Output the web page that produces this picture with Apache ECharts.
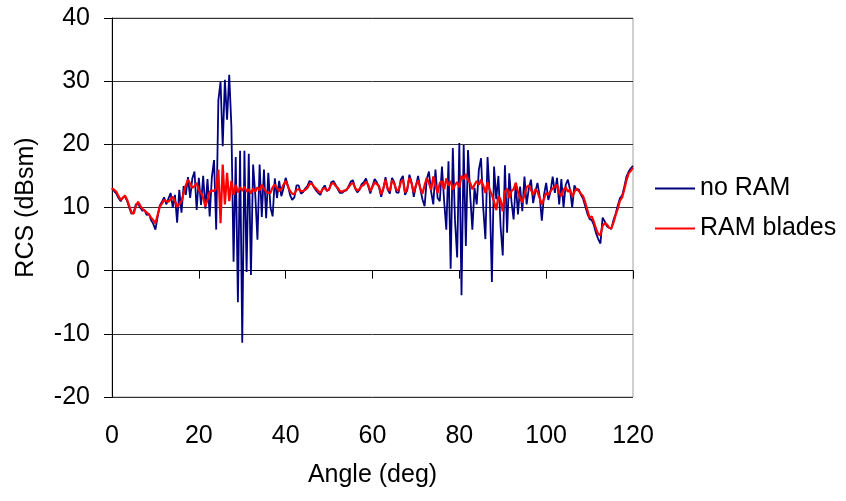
<!DOCTYPE html>
<html>
<head>
<meta charset="utf-8">
<script src="https://cdn.jsdelivr.net/npm/echarts@6/dist/echarts.min.js"></script>
<style>html,body{margin:0;padding:0;background:#fff}#chart{width:846px;height:501px}</style>
</head>
<body>
<div id="chart"></div>
<script>
// Angle sampling (deg)
const angleStart = 0;
const angleStep = 0.5;

// RCS (dBsm), no RAM
const noRAM = [
  13.1,12.6,12.2,11.5,11.0,11.6,11.7,11.0,9.9,9.0,
  9.3,10.5,10.6,10.0,9.5,9.6,8.8,9.0,8.0,7.4,
  6.5,8.5,10.3,10.9,11.6,10.5,11.4,12.3,10.0,12.0,
  7.6,12.8,9.2,13.4,12.0,14.8,11.5,14.6,15.7,9.6,
  14.7,10.4,15.0,9.8,14.5,8.6,14.8,17.5,6.5,27.0,
  29.9,19.7,30.2,23.9,31.0,22.8,1.4,18.0,-5.0,19.0,
  -11.4,19.0,-0.2,18.5,-0.7,16.8,12.0,4.9,16.8,8.5,
  16.0,8.3,15.5,10.0,8.6,14.6,11.5,14.2,11.8,13.0,
  14.7,13.5,12.0,11.2,11.6,13.5,13.5,12.2,12.4,13.0,
  13.4,14.2,14.0,13.2,12.7,12.3,12.0,13.0,13.5,12.6,
  12.8,14.0,14.2,13.6,12.9,12.3,12.3,12.6,12.7,13.4,
  14.1,14.3,13.0,12.4,12.8,13.7,14.0,14.6,13.4,12.2,
  13.4,14.5,14.0,13.2,11.7,13.0,14.8,12.8,12.2,14.7,
  14.0,12.4,12.3,14.4,15.0,12.0,12.7,15.2,14.0,11.7,
  13.4,15.0,13.0,11.3,10.2,14.5,15.7,12.5,10.5,16.0,
  11.5,11.0,16.5,11.0,6.5,17.3,0.3,19.4,8.0,2.1,
  20.2,-3.9,19.9,3.9,19.1,12.0,6.5,13.1,10.5,16.0,
  17.8,10.0,5.0,18.0,12.0,-1.8,16.5,11.3,15.0,7.0,
  2.4,16.7,6.0,15.4,11.0,8.1,13.9,8.9,13.3,9.4,
  14.9,10.5,13.0,14.4,10.7,12.5,13.9,11.8,7.9,12.0,
  13.9,11.2,12.5,14.9,12.3,14.7,10.5,14.5,10.0,13.6,
  14.4,12.8,10.0,13.5,12.7,12.9,12.0,11.4,10.2,9.0,
  8.2,8.0,7.2,5.9,5.0,4.3,8.4,7.8,7.0,6.8,
  6.6,8.0,9.0,10.3,11.5,11.9,13.3,14.9,15.7,16.2,
  16.6
];

// RCS (dBsm), RAM blades
const ramBlades = [
  13.0,12.8,12.5,11.8,11.2,11.5,11.9,11.2,10.2,9.2,
  9.0,10.2,10.9,10.3,9.8,9.5,9.2,8.9,8.4,8.0,
  7.5,8.8,10.1,10.6,11.2,11.0,10.9,11.3,11.7,11.0,
  10.1,10.5,11.0,12.3,13.5,14.4,13.8,13.1,13.4,13.9,
  12.8,12.3,11.5,10.2,11.2,12.5,12.7,12.6,13.0,16.0,
  7.5,16.8,10.5,15.5,11.0,14.2,12.0,13.6,12.4,13.2,
  12.6,13.3,12.5,12.9,12.2,13.0,12.5,13.2,12.7,13.6,
  13.0,12.5,12.3,12.3,13.2,13.6,13.1,12.6,12.9,13.6,
  14.2,13.4,12.6,12.2,12.1,12.8,12.9,12.6,12.6,12.8,
  13.1,13.7,13.8,13.3,13.0,12.6,12.3,12.9,13.1,12.7,
  12.9,13.7,13.9,13.4,13.1,12.6,12.5,12.7,12.8,13.2,
  13.7,13.9,13.1,12.7,12.9,13.4,13.6,14.1,13.6,12.6,
  13.3,14.0,13.7,13.4,12.1,13.0,14.4,13.0,12.6,14.3,
  13.8,12.8,12.7,14.0,14.4,12.4,13.0,14.7,13.8,12.4,
  13.5,14.3,13.0,12.2,13.5,14.7,13.9,12.8,14.9,13.5,
  12.3,13.9,14.2,12.9,14.6,13.5,14.2,12.8,13.6,14.0,
  13.2,15.0,14.5,15.3,14.3,13.9,12.9,13.6,14.2,13.6,
  14.4,13.5,12.3,14.0,12.8,12.0,10.9,9.6,11.8,11.2,
  9.4,12.5,13.0,11.5,12.6,12.9,13.9,12.5,11.5,10.8,
  12.0,13.2,13.5,12.8,12.0,12.9,12.5,11.5,10.5,11.4,
  12.3,12.0,12.6,13.0,13.3,13.6,12.3,11.8,12.8,13.2,
  12.5,12.9,11.7,12.5,13.0,12.6,12.2,11.8,10.8,9.6,
  8.4,8.6,7.7,6.6,5.8,5.6,7.1,7.5,7.3,6.8,
  6.7,7.6,8.8,9.8,11.1,11.6,12.9,14.3,15.4,15.8,
  16.3
];

const seriesNames = ['no RAM', 'RAM blades'];
const xTicks = [0, 20, 40, 60, 80, 100, 120];
const yTicks = [-20, -10, 0, 10, 20, 30, 40];

const toPairs = arr => arr.map((v, i) => [angleStart + i * angleStep, v]);

const FONT = 'Liberation Sans, Arial, Helvetica, sans-serif';
const FS = 25;
const chart = echarts.init(document.getElementById('chart'), null, {renderer: 'canvas'});
chart.setOption({
  animation: false,
  backgroundColor: '#fff',
  textStyle: {fontFamily: FONT, color: '#000'},
  grid: {left: 112, right: 213, top: 18, bottom: 104, show: true, borderColor: '#a0a0a0', borderWidth: 1},
  legend: {
    orient: 'vertical', left: 650, top: 171,
    itemWidth: 40, itemHeight: 2, itemGap: 15, icon: 'rect',
    textStyle: {fontSize: FS, fontFamily: FONT, color: '#000'},
    data: seriesNames
  },
  xAxis: [{
    type: 'value', min: xTicks[0], max: xTicks[xTicks.length - 1], interval: 20,
    position: 'bottom',
    axisLine: {show: false, onZero: false},
    axisTick: {show: false},
    splitLine: {show: false},
    axisLabel: {fontSize: FS, color: '#000', margin: 27, fontFamily: FONT},
    name: 'Angle (deg)', nameLocation: 'middle', nameGap: 66,
    nameTextStyle: {fontSize: FS, color: '#000', fontFamily: FONT}
  }, {
    type: 'value', min: xTicks[0], max: xTicks[xTicks.length - 1], interval: 20,
    position: 'bottom',
    axisLine: {show: true, onZero: true, lineStyle: {color: '#000', width: 1}},
    axisTick: {show: true, inside: false, length: 8, lineStyle: {color: '#000', width: 1}},
    splitLine: {show: false},
    axisLabel: {show: false}
  }],
  yAxis: {
    type: 'value', min: yTicks[0], max: yTicks[yTicks.length - 1], interval: 10,
    axisLine: {show: true, onZero: false, lineStyle: {color: '#000', width: 1}},
    axisTick: {show: true, length: 8, lineStyle: {color: '#000'}},
    splitLine: {show: true, lineStyle: {color: '#333', width: 1}},
    axisLabel: {fontSize: FS, color: '#000', margin: 22, fontFamily: FONT},
    name: 'RCS (dBsm)', nameLocation: 'middle', nameGap: 73, nameRotate: 90,
    nameTextStyle: {fontSize: FS, color: '#000', fontFamily: FONT}
  },
  series: [{
    name: seriesNames[0], type: 'line', xAxisIndex: 0, showSymbol: false, symbol: 'none',
    data: toPairs(noRAM),
    lineStyle: {color: '#000080', width: 1.8}, itemStyle: {color: '#000080'}, z: 2
  }, {
    name: seriesNames[1], type: 'line', xAxisIndex: 0, showSymbol: false, symbol: 'none',
    data: toPairs(ramBlades),
    lineStyle: {color: '#ff0000', width: 2.2}, itemStyle: {color: '#ff0000'}, z: 3
  }]
});
</script>
</body>
</html>
